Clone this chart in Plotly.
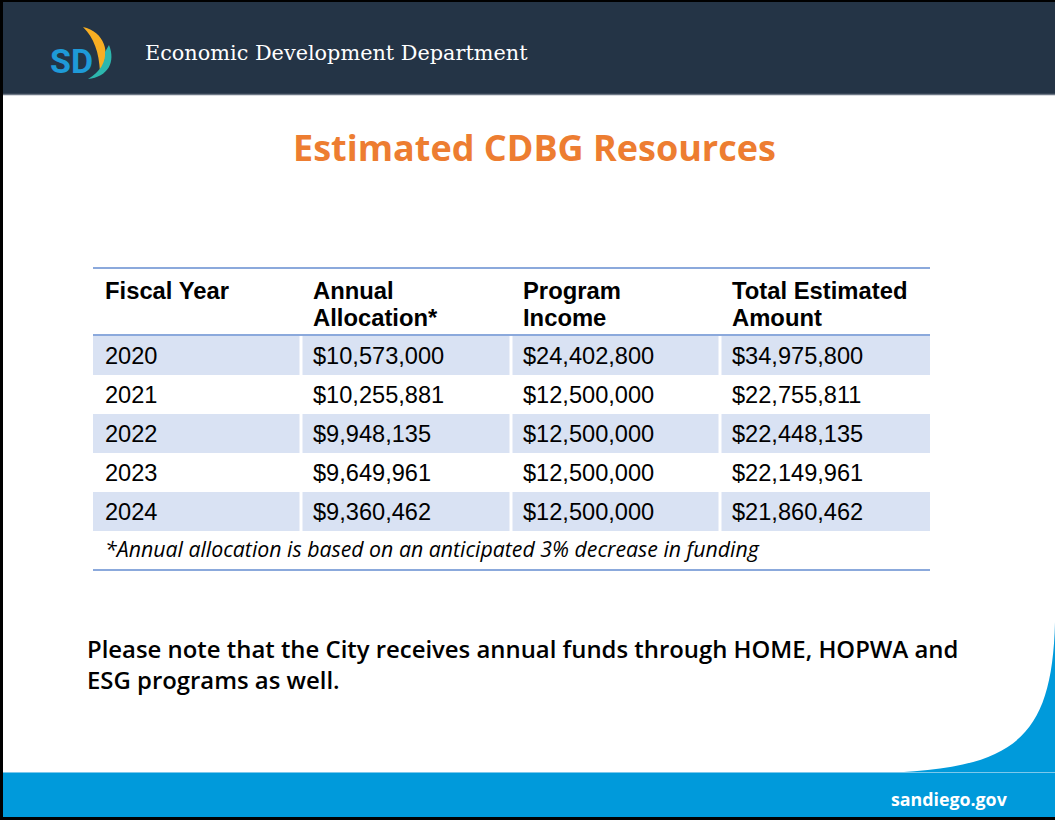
import plotly.graph_objects as go

# ---------------- data ----------------
fiscal_years = ["2020", "2021", "2022", "2023", "2024"]
annual_allocation = [10573000, 10255881, 9948135, 9649961, 9360462]
program_income = [24402800, 12500000, 12500000, 12500000, 12500000]
total_estimated = [34975800, 22755811, 22448135, 22149961, 21860462]
header_line1 = ["Fiscal Year", "Annual", "Program", "Total Estimated"]
header_line2 = ["", "Allocation*", "Income", "Amount"]
footnote = "*Annual allocation is based on an anticipated 3% decrease in funding"
title_text = "Estimated CDBG Resources"
dept_text = "Economic Development Department"
note_lines = ["Please note that the City receives annual funds through HOME, HOPWA and",
              "ESG programs as well."]
site_text = "sandiego.gov"

W, H = 1055, 820

# ---------------- layout geometry ----------------
col_x = [93, 301, 511, 720, 930]
table_top = 268
header_bottom = 335
row_top = 336
row_h = 39
foot_y = 548
table_bottom = 570

NAVY = "#243446"
BLUE = "#009ADB"
LINE = "#8BA9DC"
SHADE = "#D9E2F3"
ORANGE = "#ED7D31"
TFONT = "Arial, Liberation Sans, sans-serif"
OFONT = "Open Sans, Noto Sans, sans-serif"

shapes = []
annotations = []

def rect(x0, y0, x1, y1, color, layer="below"):
    shapes.append(dict(type="rect", xref="x", yref="y", x0=x0, y0=y0, x1=x1, y1=y1,
                       fillcolor=color, line=dict(width=0), layer=layer))

def hline(x0, x1, y, color, w):
    shapes.append(dict(type="line", xref="x", yref="y", x0=x0, x1=x1, y0=y, y1=y,
                       line=dict(color=color, width=w), layer="above"))

def text(x, y, s, size, color, family, xanchor="left", weight="normal", style="normal",
         align="left"):
    annotations.append(dict(x=x, y=y, xref="x", yref="y", text=s, showarrow=False,
                            xanchor=xanchor, yanchor="middle", align=align,
                            font=dict(size=size, color=color, family=family,
                                      weight=weight, style=style)))

# header band
rect(0, 0, W, 94, NAVY)
hline(0, W, 94.5, "#6B7684", 1.5)
# footer band + curve
rect(0, 773, W, H, BLUE)
hline(0, W, 772.5, "#7CC8EC", 1)
shapes.append(dict(type="path", xref="x", yref="y",
                   path="M 1055,622 C 1052,745 1010,770 870,773.5 L 1055,773.5 Z",
                   fillcolor=BLUE, line=dict(width=0), layer="below"))
# black frame
rect(0, 0, W, 2, "black", "above")
rect(0, 0, 3, H, "black", "above")
rect(0, 817, W, H, "black", "above")

# logo
shapes.append(dict(type="path", xref="x", yref="y",
                   path="M 83,27 C 104,32 112,52 100,72 C 99,52 94,38 83,27 Z",
                   fillcolor="#F8AE22", line=dict(width=0), layer="above"))
shapes.append(dict(type="path", xref="x", yref="y",
                   path="M 109,45 C 116,62 108,77 88,79 C 100,72 106,62 105,52 Z",
                   fillcolor="#2DB7AE", line=dict(width=0), layer="above"))
text(48, 61, "SD", 34, "#1E9AD8", "Roboto, Arial, sans-serif", weight="bold")
text(143, 53, dept_text, 20.8, "white", "DejaVu Serif, Liberation Serif, serif")

# title
text(534, 147, title_text, 36, ORANGE, OFONT, xanchor="center", weight="bold")

# table: shaded rows
for r in range(len(fiscal_years)):
    y0 = row_top + r * row_h
    if r % 2 == 0:
        for c in range(4):
            x0 = col_x[c] + (1.5 if c > 0 else 0)
            x1 = col_x[c + 1] - (1.5 if c < 3 else 0)
            rect(x0, y0, x1, y0 + row_h, SHADE)
hline(col_x[0], col_x[-1], table_top, LINE, 2)
hline(col_x[0], col_x[-1], header_bottom, LINE, 2)
hline(col_x[0], col_x[-1], table_bottom, LINE, 2)

# header text
for c in range(4):
    text(col_x[c] + 10, 290, header_line1[c], 23.8, "black", TFONT, weight="bold")
    if header_line2[c]:
        text(col_x[c] + 10, 317, header_line2[c], 23.8, "black", TFONT, weight="bold")

# body text
columns = [fiscal_years,
           [f"${v:,}" for v in annual_allocation],
           [f"${v:,}" for v in program_income],
           [f"${v:,}" for v in total_estimated]]
for c, col in enumerate(columns):
    for r, s in enumerate(col):
        text(col_x[c] + 10, row_top + r * row_h + row_h / 2, s, 23.6, "black", TFONT)

text(103, foot_y, footnote, 21.3, "black", OFONT, style="italic")

# note (one annotation, two lines)
text(85, 664, "<br>".join(note_lines), 23.9, "black", OFONT, weight=600)

# footer site
text(949, 799, site_text, 17.8, "white", OFONT, xanchor="center", weight="bold")

fig = go.Figure()
fig.update_layout(
    width=W, height=H, margin=dict(l=0, r=0, t=0, b=0),
    paper_bgcolor="white", plot_bgcolor="white",
    xaxis=dict(range=[0, W], visible=False, fixedrange=True),
    yaxis=dict(range=[H, 0], visible=False, fixedrange=True),
    shapes=shapes, annotations=annotations, showlegend=False,
)
fig.write_html("out.html", config={"displayModeBar": False},
               post_script="document.body.style.margin='0';document.body.style.overflow='hidden';")
